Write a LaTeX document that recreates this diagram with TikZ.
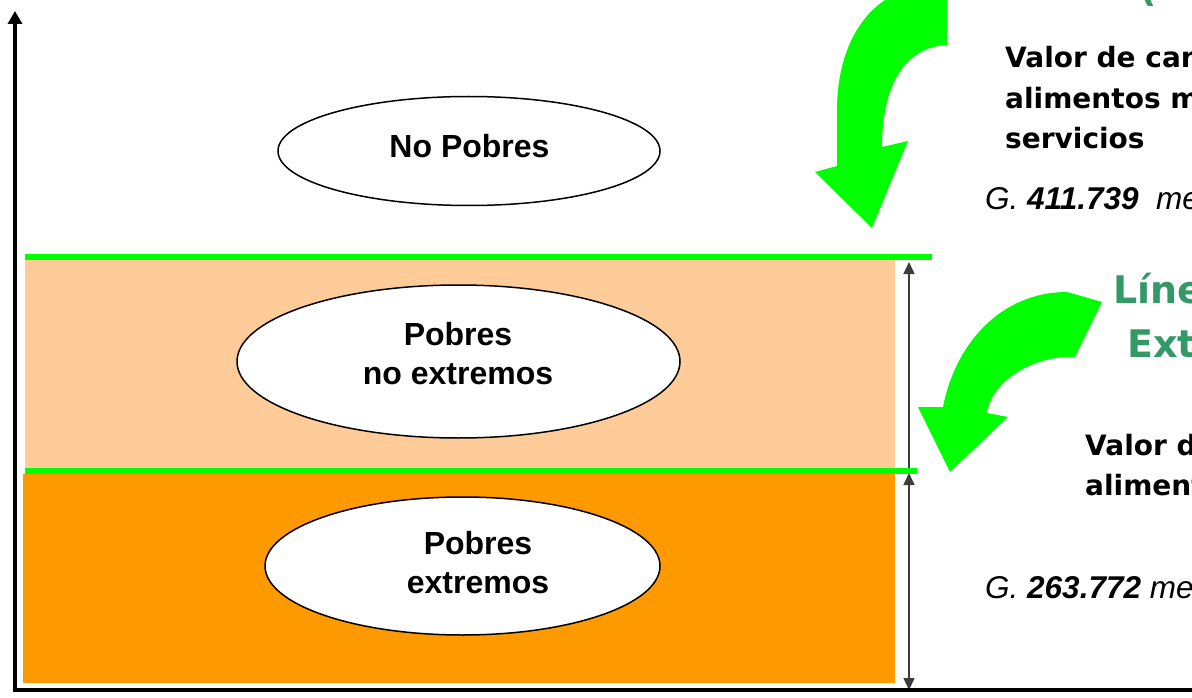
\documentclass[tikz,border=0pt]{standalone}
\usepackage{fontspec}
\usetikzlibrary{shapes.geometric,arrows.meta}
\newfontfamily\lsans{Liberation Sans}
\newfontfamily\dvsans{DejaVu Sans}
\definecolor{lightorange}{RGB}{255,204,153}
\definecolor{darkorange}{RGB}{255,153,0}
\definecolor{linegreen}{RGB}{0,255,0}
\definecolor{titlegreen}{RGB}{51,153,102}
\definecolor{dimgray}{RGB}{60,60,60}
\begin{document}
\begin{tikzpicture}[x=1pt,y=-1pt,
  classell/.style={ellipse,draw=black,line width=1.5pt,fill=white,inner sep=0pt},
  classlbl/.style={font={\lsans\bfseries\fontsize{32pt}{39pt}\selectfont},align=center,inner sep=0pt},
  sidetxt/.style={font={\dvsans\bfseries\fontsize{28pt}{34pt}\selectfont},anchor=base west,inner sep=0pt},
  valtxt/.style={font={\lsans\itshape\fontsize{31.5pt}{36pt}\selectfont},anchor=base west,inner sep=0pt},
  titletxt/.style={font={\dvsans\bfseries\fontsize{38pt}{44pt}\selectfont},text=titlegreen,anchor=base west,inner sep=0pt},
  limitline/.style={linegreen,line width=6pt},
  dimline/.style={dimgray,line width=1.5pt},
  axisline/.style={black,line width=3.5pt},
  bigarrow/.style={fill=linegreen,draw=none}]

\useasboundingbox (0,0) rectangle (1192,698);
\clip (0,0) rectangle (1192,698);

% bands
\fill[lightorange] (25,260) rectangle (895,468);
\fill[darkorange] (23,474) rectangle (895,683);

% dimension arrows
\coordinate (d1a) at (909,470);
\coordinate (d1b) at (909,262);
\coordinate (d2a) at (909,473);
\coordinate (d2b) at (909,690);
\draw[dimline,-{Triangle[width=11pt,length=12pt]}] (d1a) -- (d1b);
\draw[dimline,{Triangle[width=11pt,length=12pt]}-{Triangle[width=11pt,length=12pt]}] (d2a) -- (d2b);

% green limit lines
\coordinate (g1a) at (25,257);
\coordinate (g1b) at (932,257);
\coordinate (g2a) at (25,471);
\coordinate (g2b) at (917,471);
\draw[limitline] (g1a) -- (g1b);
\draw[limitline] (g2a) -- (g2b);

% ellipses
\node[classell,minimum width=382pt,minimum height=109pt] (e1) at (469,151) {};
\node[classell,minimum width=443pt,minimum height=153pt] (e2) at (458.5,361.5) {};
\node[classell,minimum width=395pt,minimum height=138pt] (e3) at (462.5,566) {};
\node[classlbl] (t1) at (469.5,146) {No Pobres};
\node[classlbl] (t2) at (458,353.5) {Pobres\\no extremos};
\node[classlbl] (t3) at (478,563) {Pobres\\extremos};

% curved green arrows
\fill[bigarrow] (947,-40) -- (947,45) .. controls (905,47) and (882,85) .. (882,147)
  -- (908,141) -- (872,228) -- (815,172) -- (837,166) -- (837,110)
  .. controls (837,60) and (855,20) .. (885,0) -- (915,-40) -- cycle;
\fill[bigarrow] (1102,302) -- (1075,357) .. controls (1035,355) and (992,380) .. (987,413)
  -- (1008,417) -- (950,472) -- (918,407) -- (943,407)
  .. controls (955,345) and (1000,292) .. (1067,292) -- cycle;

% right-hand texts
\node[titletxt] (ttl0) at (1139,2) {(};
\node[sidetxt] (s1) at (1005,68) {Valor de can};
\node[sidetxt] (s2) at (1005,109) {alimentos m};
\node[sidetxt] (s3) at (1005,149) {servicios};
\node[valtxt] (v1) at (985,209) {G. \textbf{411.739}\ \ me};
\node[titletxt] (ttl1) at (1113,303) {Líne};
\node[titletxt] (ttl2) at (1127,357) {Ext};
\node[sidetxt] (s4) at (1085,455) {Valor d};
\node[sidetxt] (s5) at (1085,495) {aliment};
\node[valtxt] (v2) at (985,598) {G. \textbf{263.772} me};

% axes
\coordinate (ybot) at (15,692);
\coordinate (ytop) at (15,11);
\coordinate (xbeg) at (13.25,690);
\coordinate (xend) at (1200,690);
\draw[axisline,-{Triangle[width=14pt,length=13pt]}] (ybot) -- (ytop);
\draw[axisline] (xbeg) -- (xend);
\end{tikzpicture}
\end{document}
